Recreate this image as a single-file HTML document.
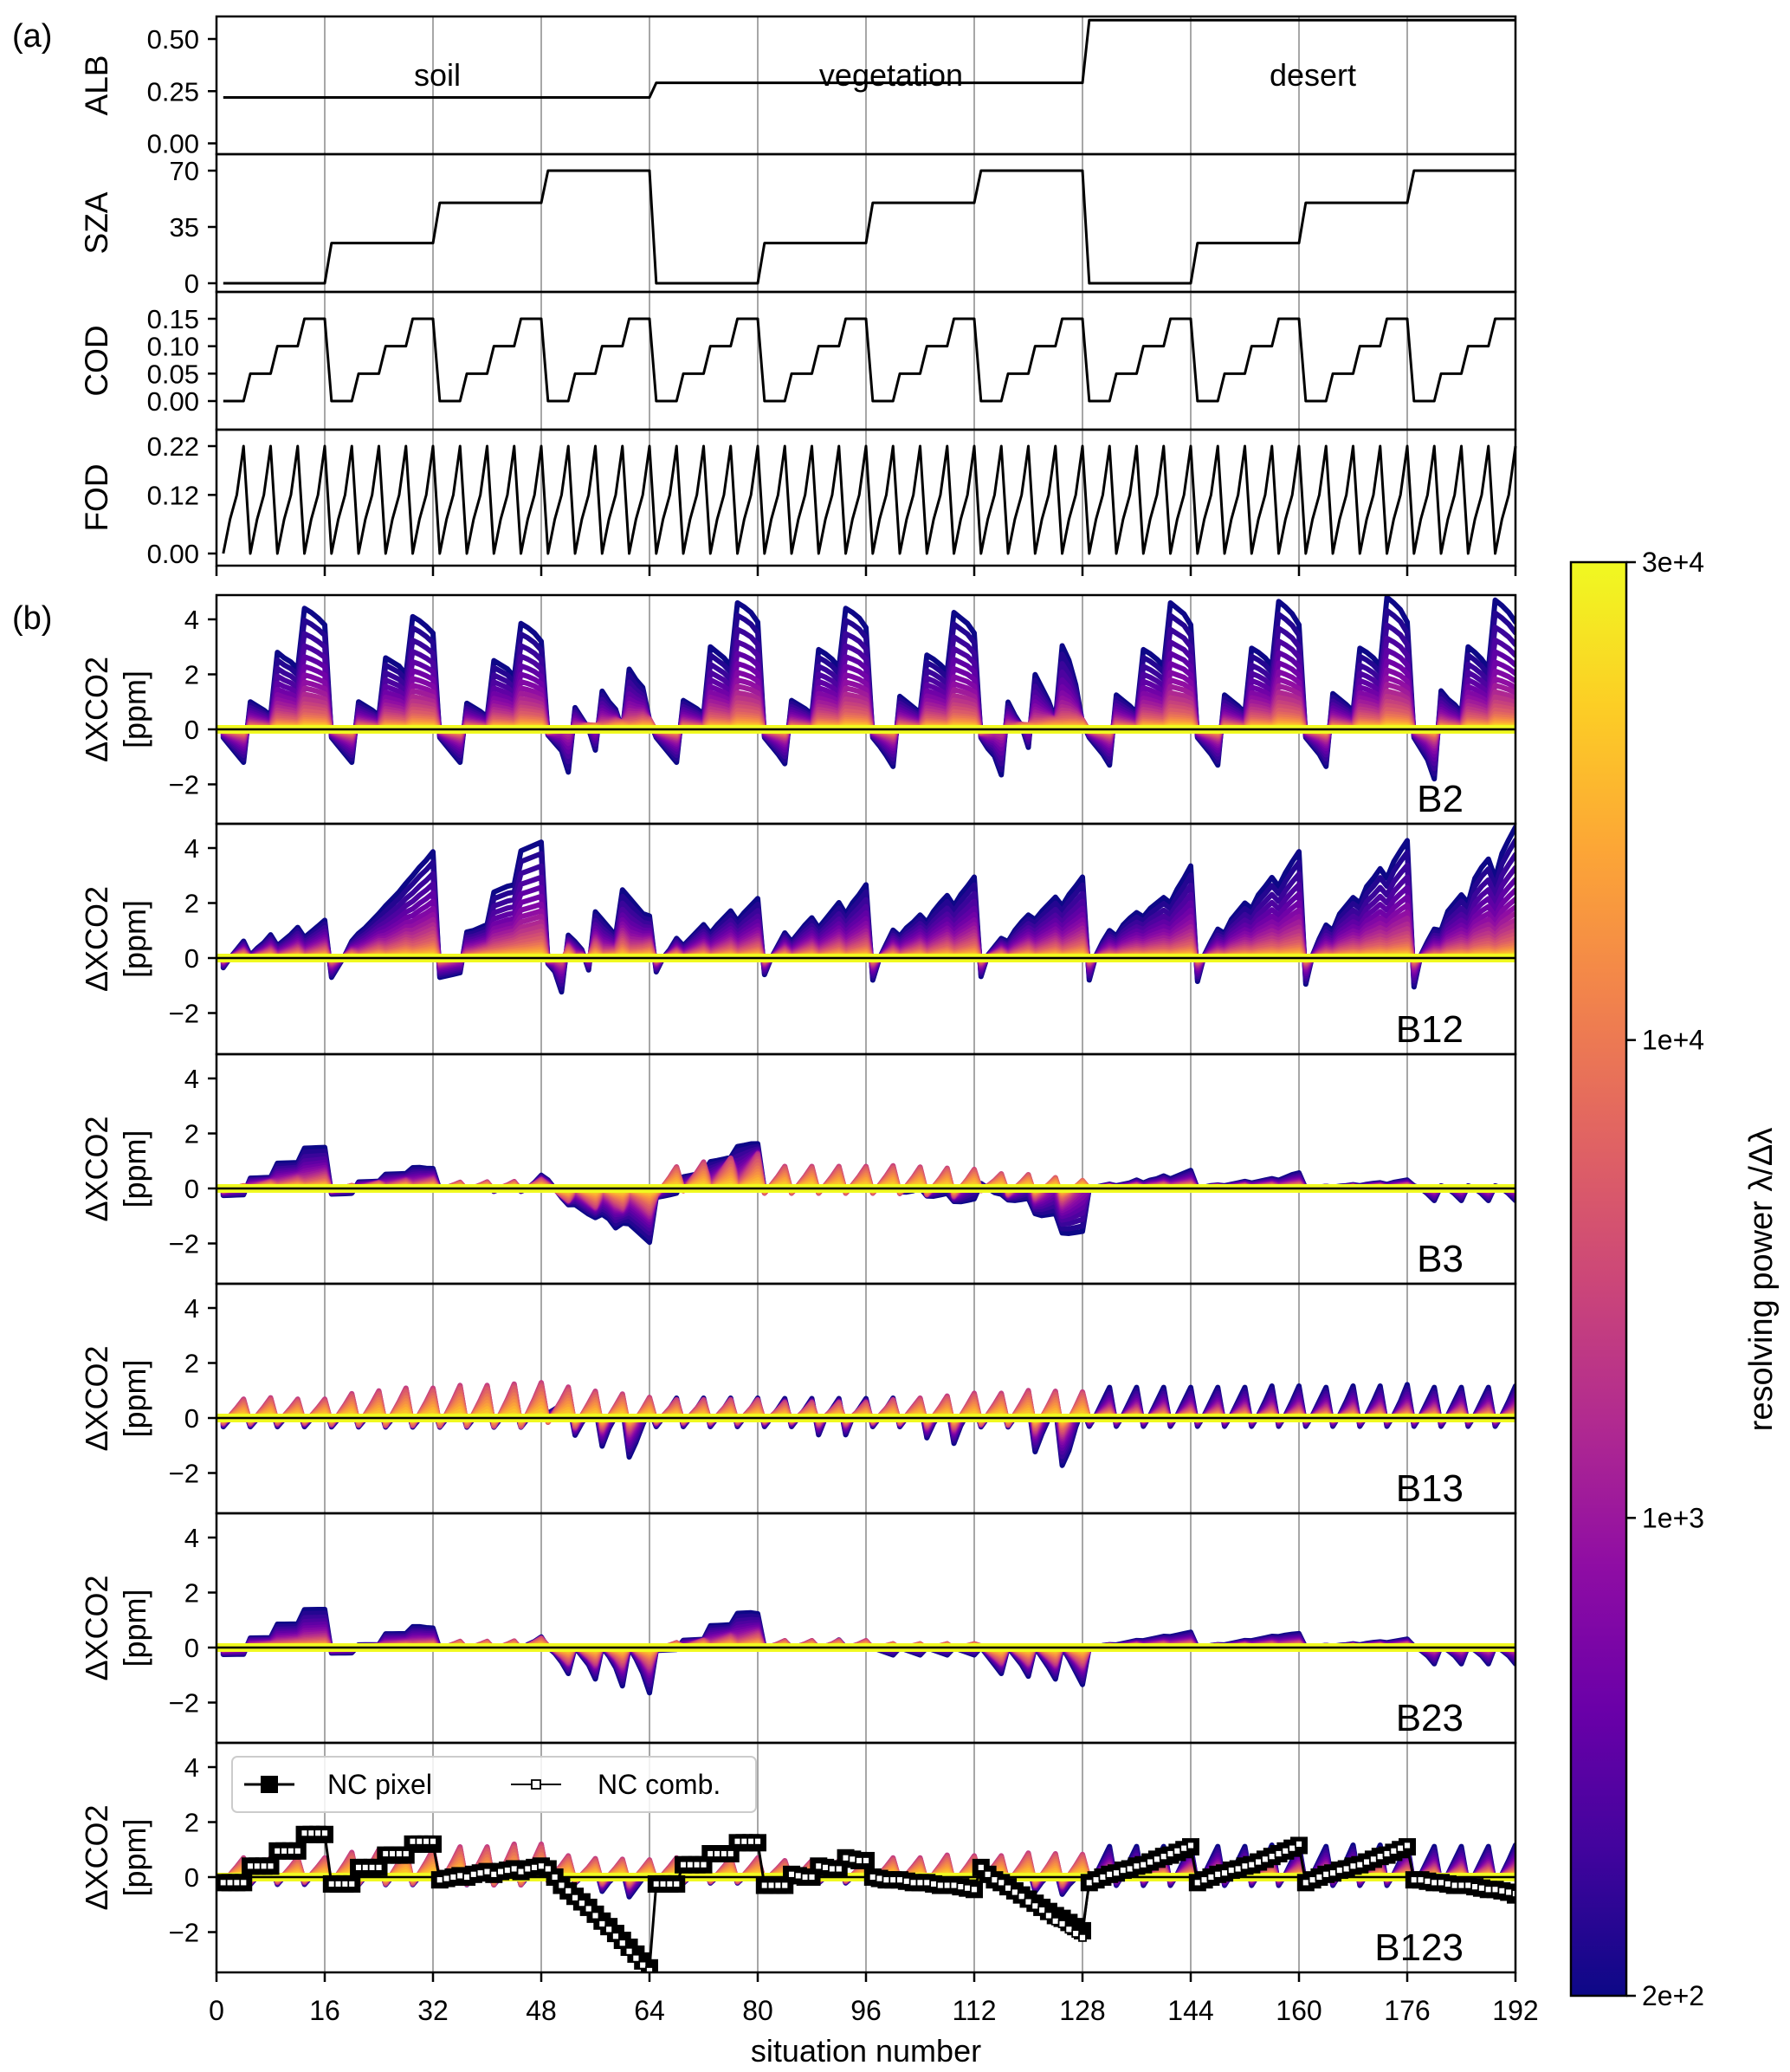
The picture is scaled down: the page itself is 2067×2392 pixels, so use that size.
<!DOCTYPE html>
<html><head><meta charset="utf-8"><style>
html,body{margin:0;padding:0;background:#fff}
svg{display:block;font-family:"Liberation Sans","DejaVu Sans",sans-serif}
</style></head><body>
<svg id="fig" width="2067" height="2392" viewBox="0 0 2067 2392" xmlns="http://www.w3.org/2000/svg">
<defs>
<linearGradient id="plasma" x1="0" y1="1" x2="0" y2="0">
<stop offset="0" stop-color="#0d0887"/><stop offset="0.1" stop-color="#41049d"/><stop offset="0.2" stop-color="#6a00a8"/><stop offset="0.3" stop-color="#8f0da4"/><stop offset="0.4" stop-color="#b12a90"/><stop offset="0.5" stop-color="#cc4778"/><stop offset="0.6" stop-color="#e16462"/><stop offset="0.7" stop-color="#f2844b"/><stop offset="0.8" stop-color="#fca636"/><stop offset="0.9" stop-color="#fcce25"/><stop offset="1" stop-color="#f0f921"/>
</linearGradient>
</defs>
<g id="root"></g>
</svg>
<script>
// ---------- data ----------
const xTicks = [0,16,32,48,64,80,96,112,128,144,160,176,192];
const surfaceNames = ["soil","vegetation","desert"];
const albValues = [0.22,0.29,0.59];
const szaValues = [0,25,50,70];
const codValues = [0,0.05,0.10,0.15];
const fodValues = [0,0.07,0.12,0.22];
const cbTickLabels = ["2e+2","1e+3","1e+4","3e+4"];
const bandNames = ["B2","B12","B3","B13","B23","B123"];
const lineScale = [1,.9,.79,.69,.6,.52,.45,.39,.34,.29,.25,.21,.18,.15,.12,.1,.08,.065,.05,.038,.027,.018,.01,.004];
const spikeWeight = [0.15,0.2,.3,.4,.5,.6,.7,.8,.9,.95,1,1,.95,.9,.8,.7,.6,.5,.4,.3,.2,.1,.05,0];
const spikeShape = [-0.2,0.15,0.55,1];

const b2Dark = [
-0.3,-0.6,-0.9,-1.2, 1.0,0.85,0.7,0.5, 2.8,2.6,2.45,2.2, 4.4,4.25,4.05,3.8,
-0.3,-0.6,-0.9,-1.2, 1.0,0.85,0.7,0.5, 2.6,2.45,2.3,2.0, 4.1,3.95,3.75,3.5,
-0.3,-0.6,-0.9,-1.2, 0.95,0.8,0.65,0.45, 2.5,2.35,2.2,1.9, 3.85,3.7,3.5,3.2,
-0.2,-0.5,-0.8,-1.6, 0.8,0.4,0.0,-0.8, 1.4,1.0,0.7,-0.1, 2.2,1.8,1.5,0.3,
-0.3,-0.6,-0.9,-1.2, 1.05,0.9,0.75,0.55, 3.0,2.8,2.6,2.3, 4.6,4.45,4.25,3.9,
-0.3,-0.6,-0.9,-1.25, 1.05,0.9,0.75,0.55, 2.9,2.75,2.55,2.25, 4.4,4.25,4.05,3.7,
-0.3,-0.6,-0.95,-1.35, 1.2,1.0,0.8,0.6, 2.7,2.55,2.35,2.1, 4.25,4.05,3.85,3.5,
-0.3,-0.7,-1.0,-1.7, 1.0,0.5,0.1,-0.7, 2.0,1.5,1.0,0.3, 3.05,2.5,1.6,0.2,
-0.3,-0.6,-0.9,-1.3, 1.25,1.05,0.85,0.6, 2.9,2.75,2.55,2.3, 4.6,4.4,4.2,3.8,
-0.3,-0.6,-0.9,-1.3, 1.25,1.05,0.85,0.6, 2.95,2.8,2.6,2.3, 4.65,4.45,4.2,3.8,
-0.3,-0.6,-0.9,-1.35, 1.3,1.1,0.9,0.65, 2.95,2.8,2.6,2.3, 4.8,4.6,4.35,3.9,
-0.3,-0.7,-1.1,-1.8, 1.4,1.1,0.9,0.6, 3.0,2.8,2.55,2.2, 4.7,4.5,4.25,3.9];
const b2Spike = [0,0,0,0, 0,0,0,0, 0,0,0,0, 0.3,0.3,0.3,0.3, 0,0,0,0, 0,0,0,0, 0,0,0,0, 0.3,0.3,0.3,0.3, 0,0,0,0, 0,0,0,0, 0,0,0,0, 0,0,0,0];

const b12Dark = [
-0.35,0.0,0.3,0.6, 0.1,0.35,0.55,0.83, 0.45,0.65,0.85,1.1, 0.75,0.95,1.15,1.36,
-0.7,-0.3,0.1,0.6, 0.9,1.1,1.35,1.6, 1.9,2.15,2.4,2.7, 3.0,3.3,3.55,3.85,
-0.7,-0.65,-0.6,-0.55, 0.95,1.0,1.1,1.2, 2.4,2.5,2.6,2.65, 3.9,4.0,4.1,4.2,
-0.2,-0.5,-1.25,0.8, 0.6,0.3,-0.45,1.65, 1.4,1.1,0.8,2.45, 2.2,1.9,1.6,1.5,
-0.5,0.0,0.3,0.7, 0.45,0.7,0.95,1.2, 0.9,1.2,1.45,1.7, 1.35,1.65,1.9,2.15,
-0.6,0.0,0.45,0.9, 0.6,0.9,1.2,1.45, 1.1,1.4,1.7,2.0, 1.6,2.0,2.3,2.65,
-0.8,0.0,0.5,1.0, 0.8,1.1,1.3,1.55, 1.3,1.7,2.0,2.26, 1.9,2.3,2.6,2.93,
-0.67,0.1,0.4,0.7, 0.6,1.0,1.3,1.55, 1.4,1.7,1.95,2.2, 1.9,2.3,2.6,2.93,
-0.8,0.1,0.6,1.0, 0.8,1.2,1.45,1.65, 1.5,1.8,2.0,2.2, 2.0,2.5,2.9,3.35,
-0.85,0.1,0.6,1.05, 0.9,1.4,1.7,2.0, 1.8,2.3,2.6,2.93, 2.6,3.1,3.5,3.87,
-0.95,0.1,0.7,1.2, 1.0,1.6,1.9,2.2, 2.0,2.6,2.9,3.25, 2.9,3.5,3.9,4.27,
-1.05,0.1,0.6,1.05, 1.0,1.7,2.0,2.3, 2.0,2.9,3.3,3.6, 2.9,3.8,4.3,4.76];
const b12Spike = [0.1,0.1,0.1,0.1, 0.1,0.1,0.1,0.1, 0.1,0.1,0.1,0.1, 0.2,0.2,0.2,0.2, 0.1,0.1,0.1,0.1, 0.1,0.1,0.1,0.1, 0.1,0.1,0.1,0.1, 0.1,0.1,0.1,0.1, 0,0,0,0, 0,0,0,0, 0,0,0,0, 0,0,0,0];

const b3Dark = [
-0.25,-0.25,-0.25,-0.25, 0.38,0.38,0.38,0.38, 0.92,0.92,0.92,0.92, 1.47,1.47,1.47,1.47,
-0.2,-0.2,-0.2,-0.2, 0.24,0.24,0.24,0.24, 0.52,0.52,0.52,0.52, 0.76,0.76,0.72,0.7,
-0.05,0.0,0.05,0.1, -0.05,0.0,0.05,0.15, -0.1,0.0,0.05,0.2, -0.1,0.0,0.2,0.45,
0.3,0.0,-0.3,-0.55, -0.6,-0.75,-0.9,-1.0, -0.95,-1.1,-1.4,-1.2, -1.3,-1.5,-1.7,-1.9,
-0.3,-0.3,-0.3,-0.3, 0.45,0.45,0.45,0.45, 1.0,1.0,1.0,1.0, 1.55,1.55,1.55,1.5,
-0.05,0.0,0.0,0.0, -0.05,0.0,0.0,0.0, -0.05,0.0,0.0,0.0, -0.05,0.0,0.0,0.0,
-0.05,0.0,0.05,0.1, -0.1,-0.15,-0.15,-0.1, -0.25,-0.3,-0.3,-0.3, -0.45,-0.5,-0.5,-0.5,
0.2,0.0,-0.2,-0.3, -0.4,-0.45,-0.45,-0.45, -0.9,-1.0,-1.0,-1.0, -1.6,-1.65,-1.65,-1.65,
0.0,0.05,0.1,0.15, 0.1,0.15,0.2,0.3, 0.2,0.3,0.35,0.45, 0.35,0.45,0.55,0.65,
0.0,0.05,0.1,0.12, 0.1,0.15,0.2,0.25, 0.2,0.25,0.3,0.35, 0.3,0.4,0.5,0.56,
0.0,0.02,0.05,0.07, 0.05,0.08,0.1,0.13, 0.1,0.15,0.18,0.2, 0.15,0.22,0.26,0.3,
0.1,0.0,-0.2,-0.45, 0.1,0.0,-0.2,-0.45, 0.1,0.0,-0.2,-0.45, 0.1,0.0,-0.2,-0.45];
const b3Spike = [0.15,0.15,0.15,0.15, 0.15,0.15,0.15,0.15, 0.2,0.2,0.2,0.2, -0.3,-0.4,-0.4,-0.4, 0.85,0.85,0.85,0.85, 0.8,0.8,0.8,0.8, 0.8,0.8,0.8,0.8, 0.6,0.6,0.6,0.6, 0.05,0.05,0.05,0.05, 0.05,0.05,0.05,0.05, 0.05,0.05,0.05,0.05, 0.05,0.05,0.05,0.05];

const b13Dark = [
-0.3,-0.05,0.15,0.35, -0.3,-0.05,0.15,0.35, -0.3,-0.05,0.15,0.35, -0.3,-0.05,0.15,0.35,
-0.3,-0.05,0.15,0.35, -0.3,-0.05,0.15,0.35, -0.3,-0.05,0.15,0.35, -0.3,-0.05,0.15,0.35,
-0.3,-0.05,0.15,0.35, -0.3,-0.05,0.15,0.35, -0.3,-0.05,0.15,0.35, -0.3,-0.05,0.15,0.35,
0.2,0.3,0.4,0.5, -0.6,-0.2,0.1,0.3, -1.0,-0.4,0.0,0.3, -1.4,-0.9,-0.3,0.2,
-0.3,0.0,0.3,0.65, -0.3,0.0,0.3,0.65, -0.3,0.0,0.3,0.65, -0.3,0.0,0.3,0.65,
-0.3,0.0,0.3,0.65, -0.3,0.0,0.3,0.65, -0.6,0.0,0.3,0.65, -0.6,0.0,0.3,0.65,
-0.3,0.0,0.3,0.65, -0.3,0.0,0.3,0.5, -0.7,-0.2,0.1,0.4, -0.9,-0.3,0.1,0.4,
-0.3,0.0,0.2,0.4, -0.3,0.0,0.2,0.4, -1.2,-0.6,-0.1,0.3, -1.7,-1.2,-0.4,0.2,
-0.3,0.1,0.6,1.1, -0.3,0.1,0.6,1.1, -0.3,0.1,0.6,1.1, -0.3,0.1,0.6,1.1,
-0.3,0.1,0.6,1.1, -0.3,0.1,0.6,1.1, -0.3,0.1,0.6,1.15, -0.3,0.1,0.6,1.15,
-0.3,0.1,0.6,1.1, -0.3,0.1,0.6,1.15, -0.3,0.1,0.6,1.15, -0.3,0.1,0.6,1.2,
-0.3,0.1,0.6,1.1, -0.3,0.1,0.6,1.1, -0.3,0.1,0.6,1.1, -0.3,0.1,0.6,1.15];
const b13Spike = [0.6,0.65,0.6,0.6, 0.8,0.9,1.0,1.0, 1.1,1.1,1.15,1.2, 1.0,0.9,0.8,0.7, 0.5,0.5,0.5,0.5, 0.4,0.4,0.4,0.4, 0.5,0.6,0.7,0.8, 0.8,0.9,0.9,0.9, 0.1,0.1,0.1,0.1, 0.1,0.1,0.1,0.1, 0.1,0.1,0.1,0.1, 0.1,0.1,0.1,0.1];

const b23Dark = [
-0.25,-0.25,-0.25,-0.25, 0.35,0.35,0.35,0.35, 0.85,0.85,0.85,0.85, 1.38,1.38,1.38,1.38,
-0.2,-0.2,-0.2,-0.2, 0.1,0.1,0.1,0.1, 0.5,0.5,0.5,0.5, 0.76,0.76,0.72,0.7,
-0.05,0.0,0.05,0.1, -0.05,0.0,0.05,0.1, -0.05,0.0,0.05,0.15, -0.05,0.1,0.2,0.35,
0.0,-0.2,-0.5,-0.9, 0.0,-0.3,-0.6,-1.1, 0.0,-0.3,-0.7,-1.35, 0.0,-0.4,-0.9,-1.6,
-0.1,-0.1,-0.1,-0.1, 0.27,0.27,0.27,0.27, 0.8,0.8,0.8,0.8, 1.25,1.25,1.25,1.2,
0.0,0.05,0.1,0.2, 0.0,0.05,0.1,0.2, 0.0,0.05,0.1,0.25, 0.0,0.05,0.1,0.2,
0.0,-0.1,-0.2,-0.3, 0.0,-0.1,-0.2,-0.3, 0.0,-0.1,-0.2,-0.3, 0.0,-0.1,-0.2,-0.3,
0.0,-0.3,-0.6,-0.9, 0.0,-0.3,-0.6,-1.0, 0.0,-0.35,-0.7,-1.1, 0.0,-0.4,-0.85,-1.3,
0.0,0.03,0.07,0.1, 0.1,0.15,0.2,0.25, 0.25,0.3,0.35,0.4, 0.4,0.45,0.5,0.55,
0.0,0.03,0.07,0.1, 0.1,0.15,0.2,0.25, 0.25,0.3,0.35,0.4, 0.4,0.45,0.48,0.5,
0.0,0.02,0.05,0.07, 0.05,0.08,0.1,0.13, 0.1,0.15,0.18,0.2, 0.18,0.22,0.26,0.3,
0.05,-0.1,-0.3,-0.6, 0.05,-0.1,-0.3,-0.6, 0.05,-0.1,-0.3,-0.6, 0.05,-0.1,-0.3,-0.6];
const b23Spike = [0.05,0.05,0.05,0.05, 0.05,0.05,0.05,0.05, 0.2,0.2,0.2,0.25, -0.3,-0.3,-0.3,-0.3, 0.2,0.2,0.2,0.2, 0.2,0.2,0.2,0.2, 0.2,0.2,0.2,0.2, -0.3,-0.3,-0.3,-0.3, 0.05,0.05,0.05,0.05, 0.05,0.05,0.05,0.05, 0.05,0.05,0.05,0.05, 0.05,0.05,0.05,0.05];

const b123Dark = [
-0.25,0.0,0.2,0.4, -0.25,0.0,0.2,0.4, -0.25,0.0,0.2,0.4, -0.25,0.0,0.2,0.4,
-0.25,0.0,0.2,0.4, -0.25,0.0,0.2,0.4, -0.25,0.0,0.2,0.4, -0.25,0.0,0.2,0.4,
-0.25,0.0,0.2,0.4, -0.25,0.0,0.2,0.4, -0.25,0.0,0.2,0.4, -0.25,0.0,0.2,0.4,
0.0,0.1,0.2,0.3, -0.2,0.0,0.1,0.3, -0.5,-0.2,0.0,0.2, -0.7,-0.4,-0.1,0.1,
-0.2,0.0,0.2,0.4, -0.2,0.0,0.2,0.4, -0.2,0.0,0.2,0.4, -0.2,0.0,0.2,0.4,
-0.2,0.0,0.2,0.4, -0.2,0.0,0.2,0.4, -0.2,0.0,0.2,0.4, -0.2,0.0,0.2,0.4,
-0.2,0.0,0.2,0.4, -0.2,0.0,0.2,0.4, -0.3,0.0,0.2,0.4, -0.4,-0.1,0.1,0.3,
0.0,0.1,0.2,0.3, -0.2,0.0,0.1,0.3, -0.5,-0.2,0.0,0.2, -0.6,-0.3,-0.1,0.1,
-0.3,0.1,0.6,1.1, -0.3,0.1,0.6,1.1, -0.3,0.1,0.6,1.1, -0.3,0.1,0.6,1.1,
-0.3,0.1,0.6,1.1, -0.3,0.1,0.6,1.1, -0.3,0.1,0.6,1.15, -0.3,0.1,0.6,1.15,
-0.3,0.1,0.6,1.1, -0.3,0.1,0.6,1.15, -0.3,0.1,0.6,1.15, -0.3,0.1,0.6,1.2,
-0.3,0.1,0.6,1.1, -0.3,0.1,0.6,1.1, -0.3,0.1,0.6,1.1, -0.3,0.1,0.6,1.15];
const b123Spike = [0.6,0.6,0.6,0.6, 0.8,0.9,0.9,0.9, 1.0,1.0,1.1,1.1, 0.7,0.6,0.6,0.6, 0.6,0.6,0.6,0.6, 0.5,0.5,0.5,0.5, 0.6,0.6,0.7,0.7, 0.7,0.8,0.8,0.8, 0.1,0.1,0.1,0.1, 0.1,0.1,0.1,0.1, 0.1,0.1,0.1,0.1, 0.1,0.1,0.1,0.1];

const ncPixel = [
-0.2,-0.2,-0.2,-0.2, 0.4,0.4,0.4,0.4, 0.95,0.95,0.95,0.95, 1.55,1.55,1.55,1.55,
-0.25,-0.25,-0.25,-0.25, 0.35,0.35,0.35,0.35, 0.8,0.8,0.8,0.8, 1.2,1.2,1.2,1.2,
-0.1,-0.05,0.0,0.05, 0.0,0.1,0.15,0.2, 0.1,0.2,0.25,0.3, 0.2,0.3,0.35,0.4,
0.3,0.0,-0.3,-0.5, -0.7,-0.9,-1.1,-1.35, -1.6,-1.8,-2.05,-2.3, -2.55,-2.8,-3.05,-3.3,
-0.25,-0.25,-0.25,-0.25, 0.45,0.45,0.45,0.45, 0.85,0.85,0.85,0.85, 1.25,1.25,1.25,1.25,
-0.3,-0.3,-0.3,-0.3, 0.1,0.05,0.0,0.0, 0.4,0.35,0.3,0.3, 0.7,0.65,0.6,0.6,
0.0,-0.05,-0.1,-0.1, -0.1,-0.15,-0.2,-0.2, -0.2,-0.25,-0.3,-0.3, -0.3,-0.35,-0.4,-0.45,
0.35,0.1,-0.1,-0.2, -0.35,-0.5,-0.65,-0.8, -0.95,-1.1,-1.25,-1.4, -1.5,-1.65,-1.8,-1.95,
-0.2,-0.1,0.0,0.1, 0.15,0.25,0.3,0.4, 0.45,0.55,0.65,0.75, 0.8,0.9,1.0,1.1,
-0.2,-0.1,0.0,0.1, 0.15,0.25,0.3,0.4, 0.45,0.55,0.65,0.75, 0.85,0.95,1.05,1.15,
-0.2,-0.1,0.0,0.1, 0.15,0.25,0.3,0.4, 0.45,0.55,0.65,0.75, 0.8,0.9,1.0,1.1,
-0.1,-0.1,-0.15,-0.2, -0.2,-0.25,-0.3,-0.3, -0.3,-0.35,-0.4,-0.45, -0.45,-0.5,-0.55,-0.65];
const ncComb = [
-0.2,-0.2,-0.2,-0.2, 0.4,0.4,0.4,0.4, 0.95,0.95,0.95,0.95, 1.6,1.6,1.6,1.6,
-0.25,-0.25,-0.25,-0.25, 0.35,0.35,0.35,0.35, 0.85,0.85,0.85,0.85, 1.3,1.3,1.3,1.3,
-0.1,-0.05,0.0,0.05, 0.0,0.1,0.15,0.2, 0.1,0.2,0.25,0.3, 0.2,0.3,0.35,0.4,
0.3,0.0,-0.3,-0.5, -0.75,-0.95,-1.15,-1.4, -1.7,-1.9,-2.15,-2.4, -2.7,-2.95,-3.2,-3.4,
-0.25,-0.25,-0.25,-0.25, 0.45,0.45,0.45,0.45, 0.85,0.85,0.85,0.85, 1.3,1.3,1.3,1.3,
-0.3,-0.3,-0.3,-0.3, 0.1,0.05,0.0,0.0, 0.4,0.35,0.3,0.3, 0.7,0.65,0.6,0.6,
0.0,-0.05,-0.1,-0.1, -0.1,-0.15,-0.2,-0.2, -0.2,-0.25,-0.3,-0.3, -0.3,-0.35,-0.4,-0.45,
0.35,0.1,-0.1,-0.2, -0.4,-0.55,-0.7,-0.9, -1.05,-1.2,-1.4,-1.6, -1.7,-1.9,-2.05,-2.2,
-0.2,-0.1,0.0,0.1, 0.15,0.25,0.3,0.4, 0.45,0.55,0.65,0.75, 0.85,0.95,1.05,1.15,
-0.2,-0.1,0.0,0.1, 0.15,0.25,0.3,0.4, 0.45,0.55,0.65,0.75, 0.85,0.95,1.05,1.2,
-0.2,-0.1,0.0,0.1, 0.15,0.25,0.3,0.4, 0.45,0.55,0.65,0.75, 0.85,0.95,1.05,1.15,
-0.1,-0.1,-0.15,-0.2, -0.2,-0.25,-0.3,-0.3, -0.3,-0.35,-0.4,-0.45, -0.45,-0.5,-0.55,-0.6];

// ---------- rendering ----------
const NS = "http://www.w3.org/2000/svg";
const root = document.getElementById("root");
const X0 = 250, X1 = 1750;
const xs = v => X0 + v * (X1 - X0) / 192;
function mk(tag, attrs, parent) {
  const e = document.createElementNS(NS, tag);
  for (const k in attrs) e.setAttribute(k, attrs[k]);
  (parent || root).appendChild(e);
  return e;
}
function txt(s, attrs, parent) { const e = mk("text", attrs, parent); e.textContent = s; return e; }
const plasmaStops = ["#0d0887","#41049d","#6a00a8","#8f0da4","#b12a90","#cc4778","#e16462","#f2844b","#fca636","#fcce25","#f0f921"];
function plasma(t) {
  const p = Math.max(0, Math.min(1, t)) * 10, i = Math.min(9, Math.floor(p)), f = p - i;
  const a = plasmaStops[i], b = plasmaStops[i + 1];
  const c = [1,3,5].map(o => Math.round(parseInt(a.substr(o,2),16)*(1-f) + parseInt(b.substr(o,2),16)*f));
  return "rgb(" + c.join(",") + ")";
}
function gridAndTicks(g, top, bot) {
  xTicks.forEach(t => {
    if (t > 0 && t < 192) {
      const gl = mk("line", {x1: xs(t), x2: xs(t), y1: top, y2: bot, stroke: "#8a8a8a", "stroke-width": 1.5}, g);
      
      
    }
  });
}
function yAxis(g, top, bot, ticks, yf, lines) {
  ticks.forEach(tk => {
    const y = yf(tk.v);
    const tm = mk("line", {x1: 240, x2: 250, y1: y, y2: y, stroke: "#000", "stroke-width": 2.5}, g);
    
    
    const tl = txt(tk.l, {x: 230, y: y + 11, "font-size": 31, "text-anchor": "end"}, g);
    
    
  });
  const cy = (top + bot) / 2;
  if (lines.length === 1) {
    const t = txt(lines[0], {x: 0, y: 0, "font-size": 37, "text-anchor": "middle", transform: `translate(124,${cy}) rotate(-90)`}, g);
    
    
  } else {
    const t1 = txt(lines[0], {x: 0, y: 0, "font-size": 36, "text-anchor": "middle", transform: `translate(124,${cy}) rotate(-90)`}, g);
    
    
    const t2 = txt(lines[1], {x: 0, y: 0, "font-size": 36, "text-anchor": "middle", transform: `translate(168,${cy}) rotate(-90)`}, g);
    
    
  }
}
function frame(g, top, bot) {
  const r = mk("rect", {x: X0, y: top, width: X1 - X0, height: bot - top, fill: "none", stroke: "#000", "stroke-width": 2.5}, g);
  
  
}
function pathFrom(vals, yf) {
  return vals.map((v, i) => (i ? "L" : "M") + xs(i + 1).toFixed(2) + "," + yf(v).toFixed(2)).join("");
}

// ----- panel (a) -----
function expand(fn) { const a = []; for (let i = 0; i < 192; i++) a.push(fn(i)); return a; }
const albSeries = expand(i => albValues[Math.floor(i / 64)]);
const szaSeries = expand(i => szaValues[Math.floor(i / 16) % 4]);
const codSeries = expand(i => codValues[Math.floor(i / 4) % 4]);
const fodSeries = expand(i => fodValues[i % 4]);

const aPanels = [
  {name: "alb", top: 19, bot: 178, lab: "ALB", series: albSeries, yf: v => 165.5 - v * 241, ticks: [{v:0,l:"0.00"},{v:0.25,l:"0.25"},{v:0.5,l:"0.50"}]},
  {name: "sza", top: 178, bot: 337, lab: "SZA", series: szaSeries, yf: v => 327 - v * 130 / 70, ticks: [{v:0,l:"0"},{v:35,l:"35"},{v:70,l:"70"}]},
  {name: "cod", top: 337, bot: 496, lab: "COD", series: codSeries, yf: v => 463 - v * 95 / 0.15, ticks: [{v:0,l:"0.00"},{v:0.05,l:"0.05"},{v:0.1,l:"0.10"},{v:0.15,l:"0.15"}]},
  {name: "fod", top: 496, bot: 653, lab: "FOD", series: fodSeries, yf: v => 639 - v * 124 / 0.22, ticks: [{v:0,l:"0.00"},{v:0.12,l:"0.12"},{v:0.22,l:"0.22"}]}
];
aPanels.forEach(p => {
  const g = mk("g", {});
  
  
  gridAndTicks(g, p.top, p.bot);
  const pl = mk("path", {d: pathFrom(p.series, p.yf), fill: "none", stroke: "#000", "stroke-width": 3, "stroke-linejoin": "round"}, g);
  
  
  yAxis(g, p.top, p.bot, p.ticks, p.yf, [p.lab]);
  frame(g, p.top, p.bot);
});
const surfX = [505, 1029, 1516];
surfaceNames.forEach((s, i) => {
  const t = txt(s, {x: surfX[i], y: 99, "font-size": 36, "text-anchor": "middle"});
  
  
});
xTicks.forEach(t => {
  const l = mk("line", {x1: xs(t), x2: xs(t), y1: 653, y2: 665, stroke: "#000", "stroke-width": 2.5});
  
  
});
const la = txt("(a)", {x: 14, y: 54, "font-size": 38});


const lb = txt("(b)", {x: 14, y: 726, "font-size": 38});



// ----- panel (b) -----
const bTops = [687, 951, 1217, 1482, 1747, 2012];
const bBot = 2277;
const darkSets = [b2Dark, b12Dark, b3Dark, b13Dark, b23Dark, b123Dark];
const spikeSets = [b2Spike, b12Spike, b3Spike, b13Spike, b23Spike, b123Spike];
const NL = lineScale.length;
bTops.forEach((top, pi) => {
  const bot = pi < 5 ? bTops[pi + 1] : bBot;
  const zero = top + 155, ppm = 31.75;
  const yf = v => zero - v * ppm;
  const g = mk("g", {});
  
  
  gridAndTicks(g, top, bot);
  const cid = "clip" + pi;
  const cp = mk("clipPath", {id: cid}, g);
  mk("rect", {x: X0, y: top, width: X1 - X0, height: bot - top}, cp);
  const lg = mk("g", {"clip-path": `url(#${cid})`}, g);
  const dark = darkSets[pi], spk = spikeSets[pi];
  for (let k = 0; k < NL; k++) {
    const vals = dark.map((d, i) => d * lineScale[k] + spk[Math.floor(i / 4)] * spikeShape[i % 4] * spikeWeight[k]);
    const ln = mk("path", {d: pathFrom(vals, yf), fill: "none", stroke: plasma(k / (NL - 1)), "stroke-width": 6, "stroke-linejoin": "round", "stroke-linecap": "round"}, lg);
    
    
  }
  const yl = mk("line", {x1: X0, x2: X1, y1: zero, y2: zero, stroke: "#f0f921", "stroke-width": 10}, lg);
  
  
  const zl = mk("line", {x1: X0, x2: X1, y1: zero, y2: zero, stroke: "#000", "stroke-width": 2.5}, lg);
  
  
  if (pi === 5) {
    const ncp = mk("path", {d: pathFrom(ncPixel, yf), fill: "none", stroke: "#000", "stroke-width": 3}, lg);
    
    
    ncPixel.forEach((v, i) => {
      const m = mk("rect", {x: xs(i + 1) - 10, y: yf(v) - 10, width: 20, height: 20, fill: "#000"}, lg);
      
      
    });
    const ncc = mk("path", {d: pathFrom(ncComb, yf), fill: "none", stroke: "#000", "stroke-width": 2}, lg);
    
    
    ncComb.forEach((v, i) => {
      const m = mk("rect", {x: xs(i + 1) - 4, y: yf(v) - 4, width: 8, height: 8, fill: "#fff", stroke: "#000", "stroke-width": 1.8}, lg);
      
      
    });
  }
  yAxis(g, top, bot, [{v:-2,l:"−2"},{v:0,l:"0"},{v:2,l:"2"},{v:4,l:"4"}], yf, ["ΔXCO2", "[ppm]"]);
  const bl = txt(bandNames[pi], {x: 1690, y: bot - 14, "font-size": 44, "text-anchor": "end"}, g);
  
  
  frame(g, top, bot);
});
// legend
const leg = mk("g", {});


mk("rect", {x: 268, y: 2028, width: 605, height: 64, rx: 6, fill: "#fff", "fill-opacity": 0.85, stroke: "#cccccc", "stroke-width": 2}, leg);
const le1 = mk("g", {}, leg);


mk("line", {x1: 282, x2: 340, y1: 2060, y2: 2060, stroke: "#000", "stroke-width": 3}, le1);
mk("rect", {x: 301, y: 2050, width: 20, height: 20, fill: "#000"}, le1);
txt("NC pixel", {x: 378, y: 2071, "font-size": 32}, le1);
const le2 = mk("g", {}, leg);


mk("line", {x1: 590, x2: 648, y1: 2060, y2: 2060, stroke: "#000", "stroke-width": 2}, le2);
mk("rect", {x: 614, y: 2055, width: 10, height: 10, fill: "#fff", stroke: "#000", "stroke-width": 1.8}, le2);
txt("NC comb.", {x: 690, y: 2071, "font-size": 32}, le2);

// x axis
xTicks.forEach(t => {
  const l = mk("line", {x1: xs(t), x2: xs(t), y1: bBot, y2: bBot + 11, stroke: "#000", "stroke-width": 2.5});
  
  
  const tl = txt(String(t), {x: xs(t), y: 2332, "font-size": 32, "text-anchor": "middle"});
  
  
});
const xt = txt("situation number", {x: 1000, y: 2380, "font-size": 36, "text-anchor": "middle"});



// colorbar
const cb = mk("g", {});


const cbTop = 649, cbBot = 2304, cbL = 1814, cbR = 1878;
mk("rect", {x: cbL, y: cbTop, width: cbR - cbL, height: cbBot - cbTop, fill: "url(#plasma)", stroke: "#000", "stroke-width": 2.5}, cb);
cbTickLabels.forEach((s, i) => {
  const y = cbBot - i * (cbBot - cbTop) / (cbTickLabels.length - 1);
  const tm = mk("line", {x1: cbR, x2: cbR + 11, y1: y, y2: y, stroke: "#000", "stroke-width": 2.5}, cb);
  
  
  const tl = txt(s, {x: cbR + 18, y: y + 11, "font-size": 32}, cb);
  
  
});
const cbt = txt("resolving power λ/Δλ", {x: 0, y: 0, "font-size": 38, "text-anchor": "middle", transform: "translate(2046,1477) rotate(-90)"}, cb);


</script>
</body></html>
